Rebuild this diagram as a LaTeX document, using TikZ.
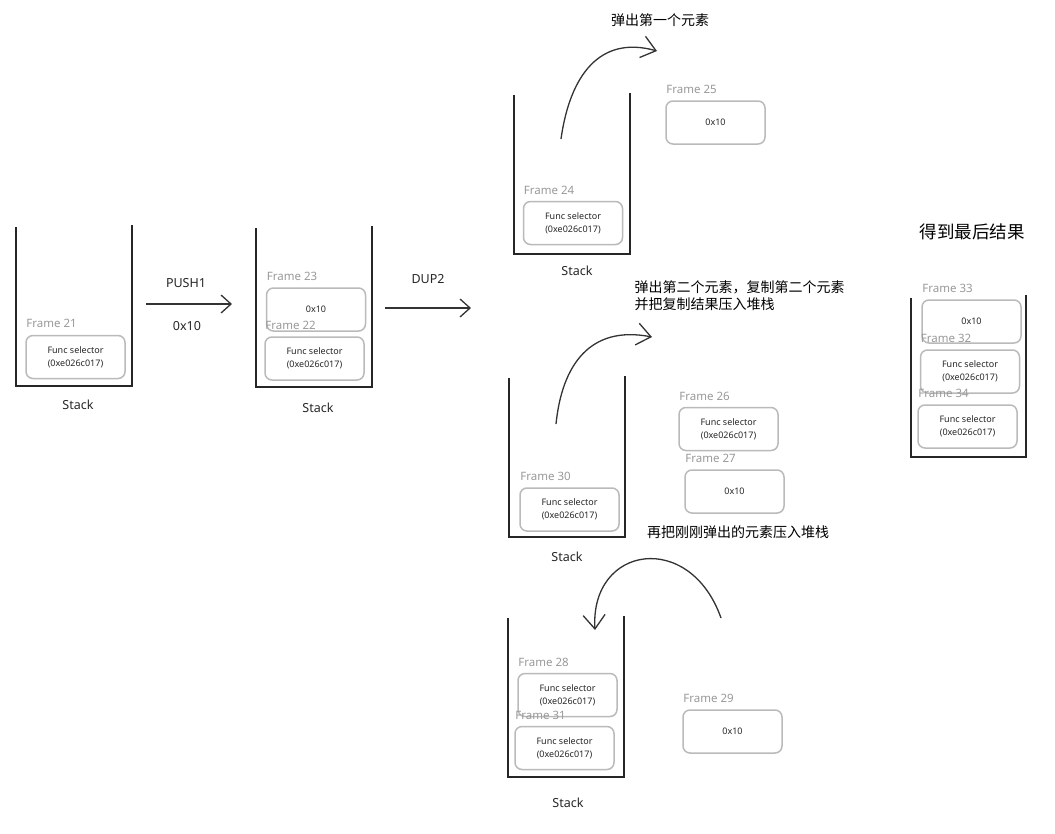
\documentclass[tikz,border=0pt]{standalone}
\usepackage{fontspec}
\setmainfont{Noto Sans}
\newfontfamily\cjk{Noto Sans CJK SC}
\usetikzlibrary{arrows.meta,positioning}

\begin{document}
\begin{tikzpicture}[x=1pt, y=-1pt,
  stackwall/.style={line width=1.6pt, draw=black!85},
  slotbox/.style={draw=black!27, line width=1.5pt, rounded corners=7pt,
    minimum width=99pt, minimum height=43pt, align=center, inner sep=0pt,
    font=\fontsize{9}{13}\selectfont, text=black!85},
  slotlabel/.style={anchor=south west, inner sep=1pt, text=black!40,
    font=\fontsize{11.5}{13}\selectfont},
  handtext/.style={font=\fontsize{12.5}{14}\selectfont, text=black!85},
  notetext/.style={font=\cjk\fontsize{14}{17}\selectfont, align=left},
  flowarrow/.style={line width=1.3pt, draw=black!80,
    -{Straight Barb[length=10pt,width=18pt]}},
  bendarrow/.style={flowarrow, -{Straight Barb[length=14pt,width=22pt]}}]
  % Canvas
  \useasboundingbox[fill=white] (0,0) rectangle (1055,833);
  % Stacks with their labels
  \foreach \n/\x/\b/\lx/\ly in {1/16/386/78/405, 2/256/387/318/408,
      3/514/254/577/271, 4/509/537/567/557, 5/508/777/568/803} {
    \draw[stackwall] (\x,{\b-159}) -- (\x,\b) -- ({\x+116},\b) -- ({\x+116},{\b-161});
    \node[handtext] (stk\n) at (\lx,\ly) {Stack};
  }
  % Final stack (no label)
  \draw[stackwall] (911,298) -- (911,457) -- (1026,457) -- (1026,295);

  % Stack 1
  \node[slotbox] (f21) at (75.5,357) {Func selector\\(0xe026c017)};
  \node[slotlabel] (l21) at ([yshift=6pt]f21.north west) {Frame 21};
  % PUSH1
  \coordinate (p1s) at (146,304);
  \coordinate (p1e) at (232,304);
  \draw[flowarrow] (p1s) -- (p1e);
  \node[handtext] (push) at (186,283) {PUSH1};
  \node[handtext] (pushv) at (187,326) {0x10};

  % Stack 2
  \node[slotbox] (f23) at (316,309.5) {0x10};
  \node[slotlabel] (l23) at ([yshift=5pt]f23.north west) {Frame 23};
  \node[slotbox] (f22) at (314.5,358.5) {Func selector\\(0xe026c017)};
  \node[slotlabel] (l22) at ([yshift=5pt]f22.north west) {Frame 22};
  % DUP2
  \coordinate (d2s) at (385,308);
  \coordinate (d2e) at (471,308);
  \draw[flowarrow] (d2s) -- (d2e);
  \node[handtext] (dup) at (428,279) {DUP2};

  % Step 1: pop first element
  \node[slotbox] (f24) at (573,223) {Func selector\\(0xe026c017)};
  \node[slotlabel] (l24) at ([yshift=5pt]f24.north west) {Frame 24};
  \node[slotbox] (f25) at (715.5,122.5) {0x10};
  \node[slotlabel] (l25) at ([yshift=5pt]f25.north west) {Frame 25};
  \coordinate (c1s) at (561,139);
  \coordinate (c1e) at (657,51);
  \draw[bendarrow] (c1s) .. controls (570,75) and (600,35) .. (c1e);
  \node[notetext] (n1) at (660,20) {弹出第一个元素};

  % Step 2: pop second element, duplicate it
  \node[notetext, anchor=west] (n2) at (631,296)
    {弹出第二个元素，复制第二个元素\\并把复制结果压入堆栈};
  \node[slotbox] (f30) at (569.5,509.5) {Func selector\\(0xe026c017)};
  \node[slotlabel] (l30) at ([yshift=5pt]f30.north west) {Frame 30};
  \node[slotbox] (f26) at (728.5,429) {Func selector\\(0xe026c017)};
  \node[slotlabel] (l26) at ([yshift=5pt]f26.north west) {Frame 26};
  \node[slotbox] (f27) at (734.5,491.5) {0x10};
  \node[slotlabel] (l27) at ([yshift=5pt]f27.north west) {Frame 27};
  \coordinate (c2s) at (556,424);
  \coordinate (c2e) at (652,337);
  \draw[bendarrow] (c2s) .. controls (562,365) and (590,325) .. (c2e);
  \node[notetext] (n3) at (738,532) {再把刚刚弹出的元素压入堆栈};

  % Step 3: push the popped element back
  \node[slotbox] (f28) at (567.5,695) {Func selector\\(0xe026c017)};
  \node[slotlabel] (l28) at ([yshift=5pt]f28.north west) {Frame 28};
  \node[slotbox] (f31) at (564.5,748) {Func selector\\(0xe026c017)};
  \node[slotlabel] (l31) at ([yshift=5pt]f31.north west) {Frame 31};
  \node[slotbox] (f29) at (732.5,731.5) {0x10};
  \node[slotlabel] (l29) at ([yshift=5pt]f29.north west) {Frame 29};
  \coordinate (c3s) at (721,618);
  \coordinate (c3e) at (595,630);
  \draw[bendarrow] (c3s) .. controls (690,530) and (590,545) .. (c3e);

  % Result
  \node[notetext, font=\cjk\fontsize{17.5}{20}\selectfont] (res) at (972,232) {得到最后结果};
  \node[slotbox] (f33) at (971.5,321.5) {0x10};
  \node[slotlabel] (l33) at ([yshift=5pt]f33.north west) {Frame 33};
  \node[slotbox] (f32) at (970,371.5) {Func selector\\(0xe026c017)};
  \node[slotlabel] (l32) at ([yshift=5pt]f32.north west) {Frame 32};
  \node[slotbox] (f34) at (967.5,426.5) {Func selector\\(0xe026c017)};
  \node[slotlabel] (l34) at ([yshift=5pt]f34.north west) {Frame 34};
\end{tikzpicture}
\end{document}
